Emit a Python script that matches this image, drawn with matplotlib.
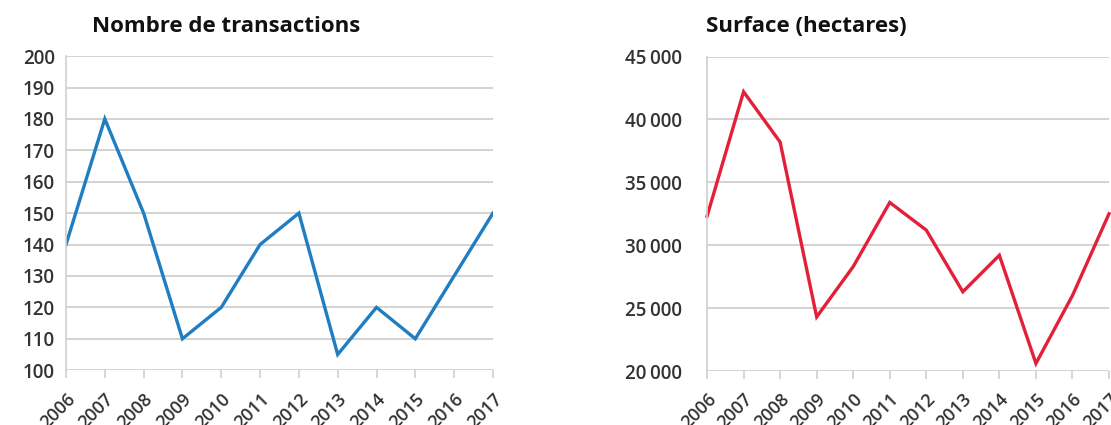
import numpy as np
import matplotlib
matplotlib.use('Agg')
import matplotlib.pyplot as plt
from matplotlib.ticker import FuncFormatter

years = [2006, 2007, 2008, 2009, 2010, 2011, 2012, 2013, 2014, 2015, 2016, 2017]
transactions = [140, 180, 150, 110, 120, 140, 150, 105, 120, 110, 130, 150]
surface = [32300, 42200, 38200, 24300, 28300, 33400, 31200, 26300, 29200, 20600, 26000, 32500]

titles = ['Nombre de transactions', 'Surface (hectares)']

plt.rcParams['font.family'] = ['Open Sans', 'DejaVu Sans']

fig = plt.figure(figsize=(11.11, 4.25), dpi=100)
ax1 = fig.add_axes([0.0594, 0.129, 0.3843, 0.739])
ax2 = fig.add_axes([0.6364, 0.127, 0.3618, 0.740])


def style(ax, ypad):
    for s in ['top', 'right', 'bottom']:
        ax.spines[s].set_visible(False)
    ax.spines['left'].set_color('#d0d0d0')
    ax.spines['left'].set_linewidth(1.2)
    ax.grid(axis='y', color='#d0d0d0', linewidth=1.3)
    ax.set_axisbelow(True)
    ax.set_xlim(years[0], years[-1])
    ax.set_xticks(years)
    ax.set_xticklabels([str(y) for y in years], rotation=45, ha='right',
                       rotation_mode='anchor', fontsize=13,
                       fontweight='semibold', color='#333333')
    ax.tick_params(axis='x', length=6, color='#d0d0d0', width=1.2, pad=8)
    ax.tick_params(axis='y', length=0, pad=ypad, labelsize=13.5, labelcolor='#333333')
    for t in ax.get_yticklabels():
        t.set_fontweight('semibold')


ax1.plot(years, transactions, color='#1f7dc1', linewidth=2.4, solid_joinstyle='miter')
ax1.set_ylim(100, 200)
ax1.set_yticks(np.arange(100, 201, 10))
style(ax1, 8)
ax1.text(92 / 1111, 1 - 26 / 425, titles[0], transform=fig.transFigure,
         fontsize=16, fontweight='bold', color='#111111', va='center', ha='left')

ax2.plot(years, surface, color='#e3203a', linewidth=2.4, solid_joinstyle='miter', clip_on=False)
ax2.set_ylim(20000, 45000)
ax2.set_yticks(np.arange(20000, 45001, 5000))
ax2.yaxis.set_major_formatter(FuncFormatter(lambda v, p: f'{int(v):,}'.replace(',', '\u2009')))
style(ax2, 18)
ax2.text(706 / 1111, 1 - 26 / 425, titles[1], transform=fig.transFigure,
         fontsize=16, fontweight='bold', color='#111111', va='center', ha='left')

fig.savefig('out.png', dpi=100)
